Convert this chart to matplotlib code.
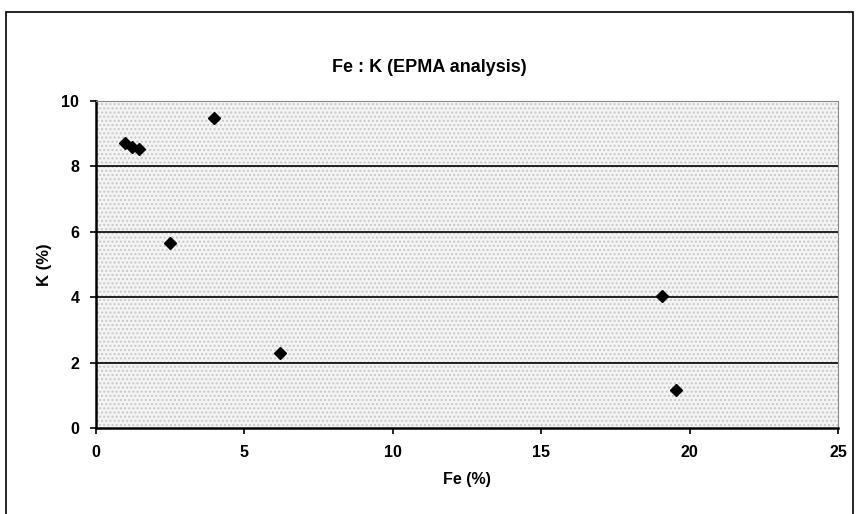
import matplotlib
matplotlib.use('Agg')
import matplotlib.pyplot as plt
from matplotlib.patches import Rectangle

# --- Data ---
fe = [0.98, 1.2, 1.45, 3.98, 2.49, 6.2, 19.07, 19.54]   # Fe (%)
k = [8.72, 8.6, 8.52, 9.48, 5.66, 2.29, 4.04, 1.16]      # K (%)

x_ticks = [0, 5, 10, 15, 20, 25]
y_ticks = [0, 2, 4, 6, 8, 10]

plt.rcParams['font.family'] = ['Liberation Sans', 'DejaVu Sans']
plt.rcParams['font.weight'] = 'bold'

fig = plt.figure(figsize=(8.59, 5.14), dpi=100)
ax = fig.add_axes([0.1118, 0.1673, 0.8638, 0.6362])

# chart area border
fig.patches.append(Rectangle((6 / 859, -0.02), 847 / 859, 1 - 12 / 514 + 0.02,
                             transform=fig.transFigure, fill=False,
                             edgecolor='black', linewidth=1.2))

# stippled grey plot area
ax.set_facecolor('#f4f4f4')
ax.add_patch(Rectangle((0, 0), 25, 10, facecolor='none', edgecolor='#c8c8c8',
                       hatch='....', linewidth=0, zorder=0))

for yv in y_ticks[1:]:
    ax.axhline(yv, color='black', linewidth=1.2, zorder=1)

ax.plot(fe, k, linestyle='none', marker='D', markersize=6,
        color='black', zorder=3)

ax.set_xlim(0, 25)
ax.set_ylim(0, 10)
ax.set_xticks(x_ticks)
ax.set_yticks(y_ticks)
ax.tick_params(direction='out', length=4, width=1.2, labelsize=11.5, pad=8)

for side in ['left', 'bottom']:
    ax.spines[side].set_linewidth(1.8)
for side in ['top', 'right']:
    ax.spines[side].set_color('#888888')
    ax.spines[side].set_linewidth(0.8)

ax.set_xlabel('Fe (%)', fontsize=11.5, fontweight='bold', labelpad=9)
ax.set_ylabel('K (%)', fontsize=12, fontweight='bold', labelpad=7)
fig.text(0.5, 1 - 67 / 514, 'Fe : K (EPMA analysis)', ha='center', va='center',
         fontsize=13, fontweight='bold')

fig.savefig('out.png', dpi=100)
